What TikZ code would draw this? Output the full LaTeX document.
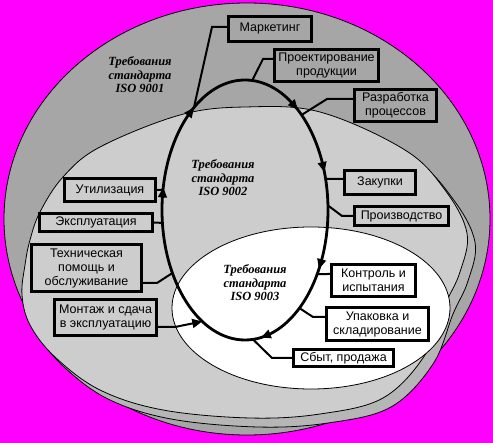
\documentclass[tikz,border=0pt]{standalone}
\usepackage{fontspec}
\setmainfont{Liberation Serif}
\newfontfamily\boxfont{Liberation Sans}
\usetikzlibrary{arrows.meta}
\definecolor{bgmag}{RGB}{255,0,255}
\definecolor{outergray}{RGB}{166,166,166}
\definecolor{rimgray}{RGB}{182,182,182}
\definecolor{midgray}{RGB}{205,205,205}
\newcommand\LoopTip[1]{\draw[looptip] ({245+83*cos(#1-5)},{210+130*sin(#1-5)}) -- ({245+83*cos(#1+1)},{210+130*sin(#1+1)});}
\newcommand\MidShape{plot[smooth cycle, tension=0.6] coordinates {(245,107) (320,112) (405,150) (445,190) (467,233) (460,272) (445,305) (425,355) (383,398) (320,414) (250,418) (163,410) (100,390) (55,357) (30,325) (22,295) (25,265) (30,240) (40,212) (63,177) (100,147) (180,115)}}
\begin{document}
\begin{tikzpicture}[x=1pt,y=-1pt,
  boxnode/.style={draw, line width=3pt, inner sep=0pt, align=center,
    font=\boxfont\fontsize{12.5}{14}\selectfont},
  lab/.style={align=center, font=\bfseries\itshape\fontsize{12.5}{13.5}\selectfont},
  conn/.style={line width=2pt},
  loopline/.style={line width=2.8pt},
  looptip/.style={line width=1pt, -{Triangle[length=10pt,width=9pt]}},
  shell/.style={draw=black, line width=0.8pt}]
\useasboundingbox (0,0) rectangle (493,443);
\fill[bgmag] (0,0) rectangle (493,443);
% nested zones
\draw[shell, fill=outergray] (247,219) ellipse [x radius=243, y radius=216];
\begin{scope}[shift={(8,9)}]
\draw[shell, fill=rimgray] \MidShape;
\end{scope}
\draw[shell, fill=midgray] \MidShape;
\draw[shell, fill=white] (311,308) ellipse [x radius=139, y radius=81];
% zone labels
\node[lab] (l1) at (140,75) {Требования\\стандарта\\ISO 9001};
\node[lab] (l2) at (223,178) {Требования\\стандарта\\ISO 9002};
\node[lab] (l3) at (255,283) {Требования\\стандарта\\ISO 9003};
% loop
\draw[loopline] (245,210) ellipse [x radius=83, y radius=130];
\LoopTip{-51.5}
\LoopTip{-18}
\LoopTip{26}
\LoopTip{78}
\LoopTip{189}
\LoopTip{231}
% points on loop
\coordinate (pMark) at ({245+83*cos(232)},{210+130*sin(232)});
\coordinate (pProj) at ({245+83*cos(-85)},{210+130*sin(-85)});
\coordinate (pRazr) at ({245+83*cos(-47)},{210+130*sin(-47)});
\coordinate (pZak) at ({245+83*cos(-13.8)},{210+130*sin(-13.8)});
\coordinate (pProd) at ({245+83*cos(-2)},{210+130*sin(-2)});
\coordinate (pKontr) at ({245+83*cos(29.5)},{210+130*sin(29.5)});
\coordinate (pUpak) at ({245+83*cos(49)},{210+130*sin(49)});
\coordinate (pSbyt) at ({245+83*cos(84.5)},{210+130*sin(84.5)});
\coordinate (pMont) at ({245+83*cos(121)},{210+130*sin(121)});
\coordinate (pTech) at ({245+83*cos(151)},{210+130*sin(151)});
\coordinate (pExpl) at ({245+83*cos(174.3)},{210+130*sin(174.3)});
\coordinate (pUtil) at ({245+83*cos(189)},{210+130*sin(189)});
% boxes
\node[boxnode, minimum width=83pt, minimum height=25pt] (mark) at (270,29) {Маркетинг};
\node[boxnode, minimum width=104pt, minimum height=32pt] (proj) at (326.5,65.5) {Проектирование\\продукции};
\node[boxnode, minimum width=82pt, minimum height=32pt] (razr) at (395.5,105.5) {Разработка\\процессов};
\node[boxnode, minimum width=71pt, minimum height=24pt] (zak) at (380,182.5) {Закупки};
\node[boxnode, minimum width=94pt, minimum height=19pt] (prod) at (401.5,216) {Производство};
\node[boxnode, minimum width=84pt, minimum height=32pt] (kontr) at (373.5,280.5) {Контроль и\\испытания};
\node[boxnode, minimum width=102pt, minimum height=33pt] (upak) at (377.5,324) {Упаковка и\\складирование};
\node[boxnode, minimum width=100pt, minimum height=17pt] (sbyt) at (343.5,358) {Сбыт, продажа};
\node[boxnode, minimum width=91pt, minimum height=23pt] (util) at (110,190) {Утилизация};
\node[boxnode, minimum width=113pt, minimum height=18pt] (expl) at (96,222.5) {Эксплуатация};
\node[boxnode, minimum width=110pt, minimum height=47pt] (tech) at (86.5,268) {Техническая\\помощь и\\обслуживание};
\node[boxnode, minimum width=102pt, minimum height=36pt] (mont) at (105.5,317.5) {Монтаж и сдача\\в эксплуатацию};
% connectors
\draw[conn] ([yshift=2pt]mark.west) -- ++(-15,0) -- (pMark);
\draw[conn] ([yshift=6.5pt]proj.west) -- ++(-10,0) -- (pProj);
\draw[conn] ([yshift=6.5pt]razr.west) -- ++(-26,0) -- (pRazr);
\draw[conn] ([yshift=3.5pt]zak.west) -- (pZak);
\draw[conn] (prod.west) -- ++(-11,0) -- (pProd);
\draw[conn] ([yshift=6.5pt]kontr.west) -- (pKontr);
\draw[conn] ([yshift=7pt]upak.west) -- ++(-12,0) -- (pUpak);
\draw[conn] (sbyt.west) -- ++(-20,0) -- (pSbyt);
\draw[conn] (util.east) -- (pUtil);
\draw[conn] (expl.east) -- (pExpl);
\draw[conn] ([yshift=-15pt]tech.east) -- ++(14,0) -- (pTech);
\draw[conn, -{Triangle[length=10pt,width=9pt]}] ([yshift=-9.5pt]mont.east) -- ++(17,0) -- (pMont);
\end{tikzpicture}
\end{document}
